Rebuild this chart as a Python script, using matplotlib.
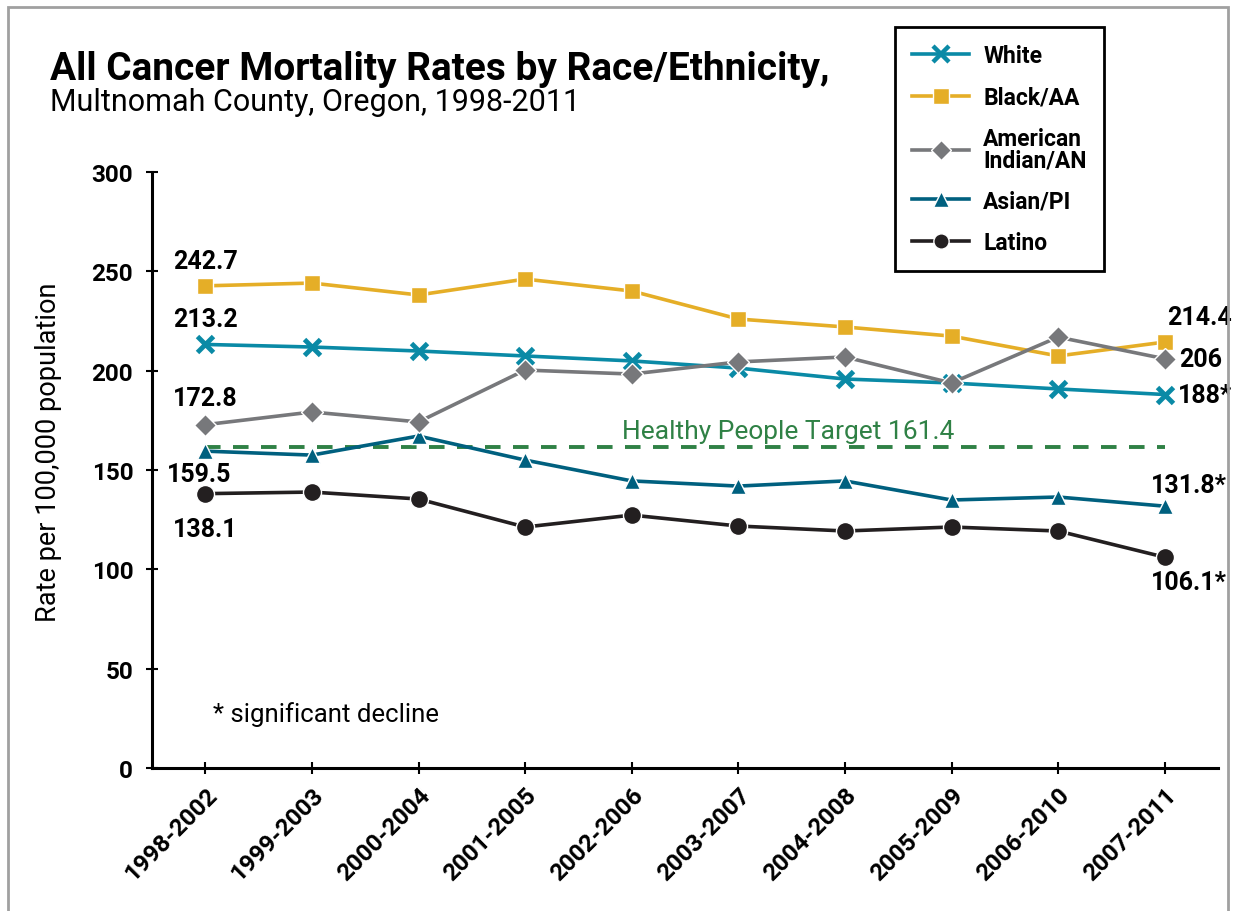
import matplotlib
matplotlib.use('Agg')
import matplotlib.pyplot as plt
from matplotlib.patches import Rectangle
from matplotlib.lines import Line2D

plt.rcParams['font.family'] = ['Roboto', 'DejaVu Sans']

periods = ['1998-2002', '1999-2003', '2000-2004', '2001-2005', '2002-2006',
           '2003-2007', '2004-2008', '2005-2009', '2006-2010', '2007-2011']
white = [213.2, 211.9, 209.9, 207.4, 204.9, 201.3, 195.8, 193.8, 190.8, 188.0]
black_aa = [242.7, 244.1, 238.1, 246.1, 240.1, 226.0, 222.0, 217.4, 207.4, 214.4]
amer_indian = [172.8, 179.2, 174.2, 200.3, 198.3, 204.4, 206.9, 193.8, 216.9, 206.0]
asian_pi = [159.5, 157.5, 167.1, 155.0, 144.5, 141.9, 144.5, 134.9, 136.4, 131.8]
latino = [138.1, 138.9, 135.4, 121.3, 127.3, 121.8, 119.3, 121.3, 119.3, 106.1]
target = 161.4

c_white = '#0a8aa6'
c_black = '#e5ae27'
c_amer = '#77787b'
c_asian = '#00607f'
c_latino = '#231f20'
c_green = '#2f8145'

fig = plt.figure(figsize=(12.35, 9.12), dpi=100)
ax = fig.add_axes([152 / 1235, 1 - 769 / 912, (1218 - 152) / 1235, (769 - 173) / 912])

# border around the whole graphic
fig.patches.append(Rectangle((8 / 1235, -0.05), (1228 - 8) / 1235, 1.05 - 8 / 912,
                             transform=fig.transFigure, fill=False,
                             edgecolor='#a0a0a0', linewidth=2))

x = list(range(len(periods)))
lw = 2.6
ax.plot([0, len(periods) - 1], [target, target], color=c_green, lw=2.8,
        linestyle=(0, (4, 3.2)), zorder=1)
ax.plot(x, white, color=c_white, lw=lw, marker='x', markersize=12, mew=3.5, zorder=3)
ax.plot(x, black_aa, color=c_black, lw=lw, marker='s', markersize=12, mec='white', mew=1, zorder=3)
ax.plot(x, amer_indian, color=c_amer, lw=lw, marker='D', markersize=11, mec='white', mew=1, zorder=4)
ax.plot(x, asian_pi, color=c_asian, lw=lw, marker='^', markersize=12, mec='white', mew=1, zorder=3)
ax.plot(x, latino, color=c_latino, lw=lw, marker='o', markersize=13, mec='white', mew=1, zorder=3)

ax.set_xlim(-0.5, len(periods) - 0.5)
ax.set_ylim(0, 300)
ax.set_yticks(range(0, 301, 50))
ax.set_xticks(x)
ax.set_xticklabels(periods, rotation=45, ha='right', rotation_mode='anchor',
                   fontsize=17.5, fontweight='bold')
for lab in ax.get_yticklabels():
    lab.set_fontsize(17.5)
    lab.set_fontweight('bold')
ax.tick_params(axis='both', direction='inout', length=9, width=1.5, color='black')
ax.tick_params(axis='x', pad=6)
ax.tick_params(axis='y', pad=9)
for s in ['top', 'right']:
    ax.spines[s].set_visible(False)
for s in ['left', 'bottom']:
    ax.spines[s].set_linewidth(2.2)

ax.set_ylabel('Rate per 100,000 population', fontsize=19.5)
ax.yaxis.set_label_coords(-(152 - 62) / 1066, 0.532)

# value labels
lab_kw = dict(textcoords='offset pixels', fontsize=18, fontweight='bold', va='center')
ax.annotate('242.7', (0, black_aa[0]), xytext=(0, 25), ha='center', **lab_kw)
ax.annotate('213.2', (0, white[0]), xytext=(0, 25), ha='center', **lab_kw)
ax.annotate('172.8', (0, amer_indian[0]), xytext=(0, 27), ha='center', **lab_kw)
ax.annotate('159.5', (0, asian_pi[0]), xytext=(-6, -23), ha='center', **lab_kw)
ax.annotate('138.1', (0, latino[0]), xytext=(0, -35), ha='center', **lab_kw)
ax.annotate('214.4', (9, black_aa[-1]), xytext=(35, 25), ha='center', **lab_kw)
ax.annotate('206', (9, amer_indian[-1]), xytext=(14, 0), ha='left', **lab_kw)
ax.annotate('188*', (9, white[-1]), xytext=(13, 0), ha='left', **lab_kw)
ax.annotate('131.8*', (9, asian_pi[-1]), xytext=(24, 21), ha='center', **lab_kw)
ax.annotate('106.1*', (9, latino[-1]), xytext=(24, -25), ha='center', **lab_kw)

ax.annotate('Healthy People Target 161.4', (7, target), xytext=(3, 16),
            textcoords='offset pixels', ha='right', va='center',
            fontsize=19, color=c_green)
ax.text(213 / 1235, 1 - 715 / 912, '* significant decline', transform=fig.transFigure,
        fontsize=18.5, va='center', ha='left')

fig.text(50 / 1235, 1 - 80 / 912, 'All Cancer Mortality Rates by Race/Ethnicity,',
         fontsize=28, fontweight='bold', va='baseline', ha='left')
fig.text(50 / 1235, 1 - 111 / 912, 'Multnomah County, Oregon, 1998-2011',
         fontsize=22, fontweight='normal', va='baseline', ha='left')

handles = [
    Line2D([], [], color=c_white, lw=lw, marker='x', markersize=11, mew=3.2),
    Line2D([], [], color=c_black, lw=lw, marker='s', markersize=11, mec='white', mew=1),
    Line2D([], [], color=c_amer, lw=lw, marker='D', markersize=10, mec='white', mew=1),
    Line2D([], [], color=c_asian, lw=lw, marker='^', markersize=11, mec='white', mew=1),
    Line2D([], [], color=c_latino, lw=lw, marker='o', markersize=11, mec='white', mew=1),
]
names = ['White', 'Black/AA', 'American\nIndian/AN', 'Asian/PI', 'Latino']
leg = fig.legend(handles, names, loc='upper left', bbox_to_anchor=(895 / 1235, 1 - 28 / 912),
                 bbox_transform=fig.transFigure, fancybox=False, framealpha=1,
                 edgecolor='black', handlelength=2.5, handletextpad=0.6,
                 labelspacing=0.8, borderpad=0.75, borderaxespad=0,
                 prop={'size': 16.5, 'weight': 'bold'})
leg.get_frame().set_linewidth(2)
for t in leg.get_texts():
    t.set_linespacing(0.9)

fig.savefig('out.png', dpi=100)
